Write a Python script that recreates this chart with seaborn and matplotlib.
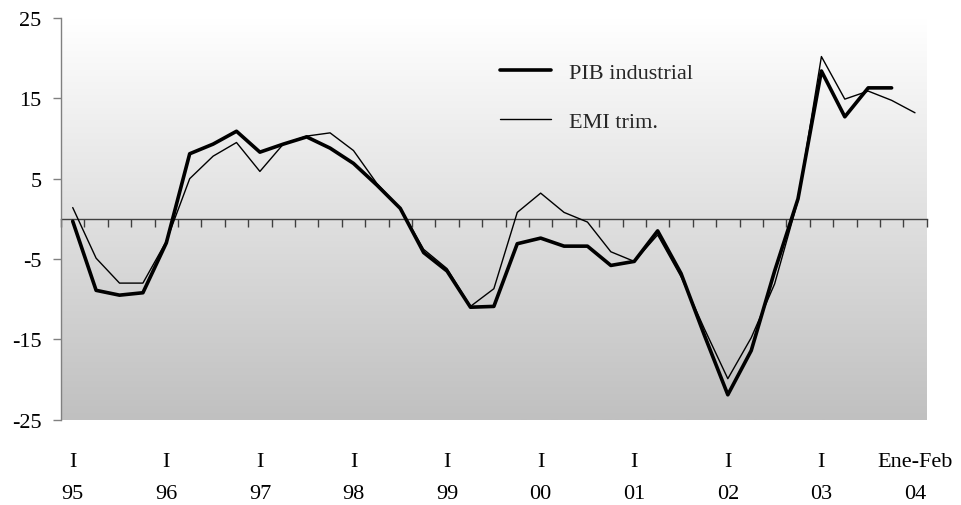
import numpy as np
import pandas as pd
import matplotlib
matplotlib.use("Agg")
import matplotlib.pyplot as plt
from matplotlib.colors import LinearSegmentedColormap
from matplotlib.lines import Line2D
import seaborn as sns

# Quarterly periods, 1995-I to 2003-IV, plus Jan-Feb 2004
periods = [f"{y}-{q}" for y in range(1995, 2004) for q in ("I", "II", "III", "IV")] + ["2004-EneFeb"]
tick_labels = ["I\n95", "I\n96", "I\n97", "I\n98", "I\n99", "I\n00", "I\n01", "I\n02", "I\n03", "Ene-Feb\n04"]
tick_periods = ["1995-I", "1996-I", "1997-I", "1998-I", "1999-I", "2000-I", "2001-I", "2002-I", "2003-I", "2004-EneFeb"]

# Annual % change
pib_industrial = [-0.3, -8.9, -9.5, -9.2, -3.0, 8.1, 9.3, 10.9, 8.3, 9.3, 10.2, 8.8,
                  6.9, 4.2, 1.3, -4.2, -6.5, -11.0, -10.9, -3.1, -2.4, -3.4, -3.4, -5.8,
                  -5.3, -1.5, -6.8, -14.5, -21.9, -16.4, -6.5, 2.5, 18.4, 12.7, 16.3, 16.3]
emi_trim = [1.4, -4.9, -8.0, -8.0, -2.8, 5.0, 7.8, 9.5, 5.9, 9.3, 10.3, 10.7,
            8.5, 4.4, 1.3, -3.8, -6.2, -10.9, -8.7, 0.8, 3.2, 0.8, -0.4, -4.1,
            -5.3, -2.0, -7.2, -13.7, -19.9, -14.8, -8.1, 2.3, 20.2, 14.9, 15.9, 14.75, 13.2]

y_ticks = [-25, -15, -5, 5, 15, 25]

sns.set_theme(style="white")
plt.rcParams["font.family"] = ["Liberation Serif", "DejaVu Serif"]
plt.rcParams["font.size"] = 16

pos = {p: i for i, p in enumerate(periods)}
df_pib = pd.DataFrame({"x": [pos[p] for p in periods[:len(pib_industrial)]], "y": pib_industrial})
df_emi = pd.DataFrame({"x": [pos[p] for p in periods[:len(emi_trim)]], "y": emi_trim})

fig = plt.figure(figsize=(9.61, 5.06), dpi=100)
ax = fig.add_axes([0.0635, 0.1686, 0.9008, 0.7939])

n = len(periods)
xmin, xmax = -0.5, n - 0.5
ymin, ymax = -25, 25

# vertical white-to-grey background of the plot area
cmap = LinearSegmentedColormap.from_list("bg", ["#c0c0c0", "#ffffff"])
ax.imshow(np.linspace(0, 1, 256).reshape(-1, 1), cmap=cmap, aspect="auto",
          extent=[xmin, xmax, ymin, ymax], origin="lower", zorder=0)

sns.lineplot(data=df_emi, x="x", y="y", ax=ax, color="black", linewidth=1.0, zorder=3)
sns.lineplot(data=df_pib, x="x", y="y", ax=ax, color="black", linewidth=2.6, zorder=4)

ax.set_xlim(xmin, xmax)
ax.set_ylim(ymin, ymax)
ax.set_xlabel("")
ax.set_ylabel("")

# y axis
ax.set_yticks(y_ticks)
ax.set_yticklabels([str(v) for v in y_ticks])
ax.tick_params(axis="y", left=True, direction="out", length=6, width=1,
               color="#808080", pad=8, labelsize=16, labelcolor="black")

# category labels below the plot
ax.set_xticks([pos[p] for p in tick_periods])
ax.set_xticklabels(tick_labels, linespacing=1.95)
ax.tick_params(axis="x", bottom=False, length=0, pad=23, labelsize=16, labelcolor="black")

for side in ("top", "right", "bottom"):
    ax.spines[side].set_visible(False)
ax.spines["left"].set_color("#808080")
ax.spines["left"].set_linewidth(1.0)
ax.grid(False)

# zero line with downward tick marks at the category boundaries
zero_axis = ax.secondary_xaxis(0.5)
zero_axis.set_xticks(np.arange(n + 1) - 0.5)
zero_axis.set_xticklabels([])
zero_axis.tick_params(axis="x", direction="in", length=6, width=1, color="#404040",
                      labelbottom=False, labeltop=False)
for sp in zero_axis.spines.values():
    sp.set_color("#404040")
    sp.set_linewidth(1.0)

handles = [Line2D([], [], color="black", linewidth=2.6),
           Line2D([], [], color="black", linewidth=1.0)]
fig.legend(handles, ["PIB industrial", "EMI trim."], loc="upper left",
           bbox_to_anchor=(500 / 961, 1 - 63 / 506), frameon=False,
           handlelength=2.3, handletextpad=0.8, labelspacing=1.3,
           borderpad=0, borderaxespad=0, fontsize=16)

fig.savefig("out.png", dpi=100)
